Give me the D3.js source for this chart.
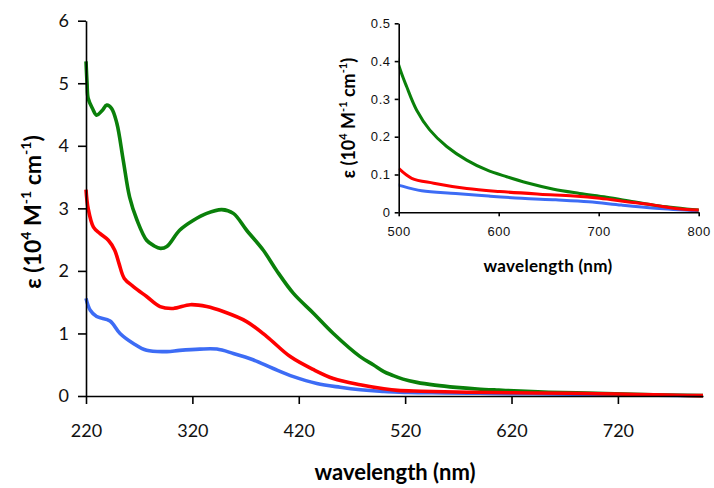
<!DOCTYPE html>
<html>
<head>
<meta charset="utf-8">
<script src="https://cdn.jsdelivr.net/npm/d3@7"></script>
<style>
  body { margin: 0; background: #fff; }
  svg { display: block; }
  .main-tick text { font-family: Lato, "Open Sans", sans-serif; font-size: 18px; fill: #111; }
  .inset-tick text { font-family: "Liberation Sans", Arial, sans-serif; font-size: 13px; letter-spacing: 0.6px; fill: #111; }
  .domain, .tick line { stroke: #000; stroke-width: 1.6px; }
</style>
</head>
<body>
<div id="chart"></div>
<script>
// wavelengths (nm) and extinction coefficients (10^4 M-1 cm-1)
const greenNm = [220, 221, 222, 226, 230, 235, 239.5, 244, 249, 255, 261, 268, 277, 284, 290, 296, 308, 321, 333.5, 347.6, 358.5, 371, 386.7, 399, 415, 434, 452.5, 477.7, 490, 500, 508, 518, 531, 548, 568, 588, 608, 628, 655, 681, 708, 735, 761, 800];
const greenEps = [5.35, 5.0, 4.76, 4.6, 4.49, 4.56, 4.65, 4.6, 4.36, 3.77, 3.18, 2.81, 2.49, 2.40, 2.36, 2.39, 2.65, 2.81, 2.92, 2.98, 2.92, 2.65, 2.33, 2.01, 1.64, 1.32, 1.0, 0.63, 0.5, 0.39, 0.332, 0.27, 0.218, 0.174, 0.138, 0.112, 0.094, 0.078, 0.061, 0.050, 0.040, 0.028, 0.017, 0.006];

const redNm = [220, 222, 227, 233, 241, 247, 251, 256, 264.5, 277, 289.6, 302, 318, 333.5, 349, 371, 390, 412, 434, 452.5, 477.7, 500, 513, 535, 568, 601, 641, 675, 701, 728, 755, 775, 800];
const redEps = [3.3, 3.0, 2.70, 2.6, 2.49, 2.33, 2.12, 1.88, 1.75, 1.59, 1.43, 1.40, 1.46, 1.43, 1.35, 1.19, 0.95, 0.63, 0.42, 0.28, 0.18, 0.116, 0.09, 0.077, 0.063, 0.055, 0.048, 0.043, 0.037, 0.028, 0.019, 0.011, 0.006];

const blueNm = [220, 224, 230, 242.6, 252, 264.5, 277, 296, 308, 327, 343, 358.5, 377, 396, 415, 437, 459, 478, 496, 500, 523, 557, 590, 623, 657, 690, 723, 757, 800];
const blueEps = [1.56, 1.37, 1.27, 1.20, 1.0, 0.84, 0.73, 0.71, 0.73, 0.75, 0.75, 0.68, 0.58, 0.44, 0.31, 0.20, 0.14, 0.10, 0.075, 0.072, 0.057, 0.050, 0.043, 0.037, 0.033, 0.028, 0.019, 0.011, 0.004];

const mainXTicks = [220, 320, 420, 520, 620, 720];
const mainYTicks = [0, 1, 2, 3, 4, 5, 6];
const insetXTicks = [500, 600, 700, 800];
const insetYTicks = [0, 0.1, 0.2, 0.3, 0.4, 0.5];

const series = [
  {color: "#3d6cf5", nm: blueNm, eps: blueEps},
  {color: "#0a800a", nm: greenNm, eps: greenEps},
  {color: "#ff0000", nm: redNm, eps: redEps}
];

const W = 714, H = 488;
const svg = d3.select("#chart").append("svg")
    .attr("width", W)
    .attr("height", H);

// main plot
const x = d3.scaleLinear().domain([220, 800]).range([86, 703]);
const y = d3.scaleLinear().domain([0, 6]).range([396, 20.7]);

const line = (xs, ys) => d3.line()
    .x(i => xs(i[0]))
    .y(i => ys(i[1]))
    .curve(d3.curveCatmullRom.alpha(0.5));

series.forEach(s => {
  svg.append("path")
      .datum(s.nm.map((n, i) => [n, s.eps[i]]))
      .attr("fill", "none")
      .attr("stroke", s.color)
      .attr("stroke-width", 3.6)
      .attr("stroke-linejoin", "round")
      .attr("d", line(x, y));
});

const gx = svg.append("g")
    .attr("class", "main-tick")
    .attr("transform", "translate(0,396)")
    .call(d3.axisBottom(x).tickValues(mainXTicks).tickSize(8).tickSizeOuter(0).tickFormat(d3.format("d")));
gx.selectAll("text").attr("y", 28);

const gy = svg.append("g")
    .attr("class", "main-tick")
    .attr("transform", "translate(86,0)")
    .call(d3.axisLeft(y).tickValues(mainYTicks).tickSize(8).tickSizeOuter(0).tickFormat(d3.format("d")));
gy.selectAll("text").attr("x", -17);

svg.append("text")
    .attr("x", 395).attr("y", 480)
    .attr("text-anchor", "middle")
    .style("font-family", "Lato, sans-serif")
    .style("font-weight", "bold")
    .style("font-size", "22px")
    .text("wavelength (nm)");

function epsLabel(g, size) {
  g.style("font-family", "Lato, sans-serif")
   .style("font-weight", "bold")
   .style("font-size", size + "px")
   .attr("text-anchor", "middle");
  const sup = Math.round(size * 0.62) + "px";
  g.append("tspan").text("ε (10");
  g.append("tspan").attr("dy", -size * 0.45).style("font-size", sup).text("4");
  g.append("tspan").attr("dy", size * 0.45).text(" M");
  g.append("tspan").attr("dy", -size * 0.45).style("font-size", sup).text("-1");
  g.append("tspan").attr("dy", size * 0.45).text(" cm");
  g.append("tspan").attr("dy", -size * 0.45).style("font-size", sup).text("-1");
  g.append("tspan").attr("dy", size * 0.45).text(")");
}

svg.append("text")
    .attr("transform", "translate(41,212) rotate(-90)")
    .call(epsLabel, 23);

// inset
const xi = d3.scaleLinear().domain([500, 800]).range([398.7, 698.7]);
const yi = d3.scaleLinear().domain([0, 0.5]).range([212.3, 23.3]);

svg.append("clipPath").attr("id", "insetClip")
  .append("rect").attr("x", 398.7).attr("y", 0).attr("width", 302).attr("height", 214);

const inset = svg.append("g").attr("clip-path", "url(#insetClip)");
series.forEach(s => {
  inset.append("path")
      .datum(s.nm.map((n, i) => [n, s.eps[i]]).filter(p => p[0] >= 490))
      .attr("fill", "none")
      .attr("stroke", s.color)
      .attr("stroke-width", 3)
      .attr("stroke-linejoin", "round")
      .attr("d", line(xi, yi));
});

const gxi = svg.append("g")
    .attr("class", "inset-tick")
    .attr("transform", "translate(0,212.3)")
    .call(d3.axisBottom(xi).tickValues(insetXTicks).tickSize(4).tickSizeOuter(0).tickFormat(d3.format("d")));
gxi.selectAll("text").attr("y", 14);

const gyi = svg.append("g")
    .attr("class", "inset-tick")
    .attr("transform", "translate(398.7,0)")
    .call(d3.axisLeft(yi).tickValues(insetYTicks).tickSize(4).tickSizeOuter(0).tickFormat(d => d === 0 ? "0" : d3.format(".1f")(d)));
gyi.selectAll("text").attr("x", -8);

svg.append("text")
    .attr("x", 548).attr("y", 272)
    .attr("text-anchor", "middle")
    .style("font-family", "Lato, sans-serif")
    .style("font-weight", "bold")
    .style("font-size", "17px")
    .style("letter-spacing", "0.3px")
    .text("wavelength (nm)");

svg.append("text")
    .attr("transform", "translate(355,118) rotate(-90)")
    .call(epsLabel, 18);
</script>
</body>
</html>
